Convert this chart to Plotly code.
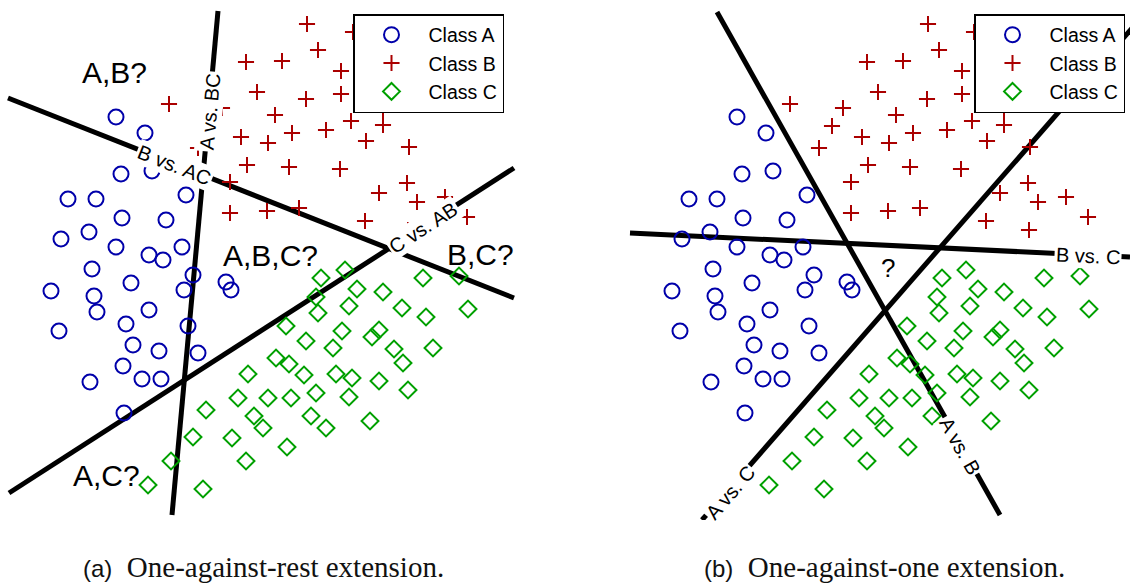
import plotly.graph_objects as go

# ---------------- data (panel coordinates, 1 unit = 1 px, y downward) -------------
class_a_x = [116, 145, 152, 121, 186, 68, 96, 122, 166, 61, 89, 116, 149, 163, 182,
             92, 131, 51, 94, 97, 149, 126, 59, 133, 159, 193, 184, 226, 231, 188,
             198, 123, 142, 161, 90, 124]
class_a_y = [117, 133, 171, 174, 195, 199, 199, 218, 220, 239, 232, 247, 255, 260, 247,
             269, 283, 291, 296, 312, 310, 324, 331, 345, 351, 275, 290, 282, 290, 326,
             353, 366, 379, 379, 382, 413]

class_b_x = [169, 222, 246, 257, 211, 241, 198, 247, 230, 230, 268, 267, 282, 307,
             318, 341, 306, 341, 275, 292, 326, 351, 383, 383, 366, 409, 289, 340,
             407, 379, 417, 445, 299, 365, 408, 467, 353]
class_b_y = [104, 108, 62, 92, 126, 137, 148, 165, 182, 213, 143, 211, 61, 24,
             50, 71, 99, 94, 115, 133, 130, 121, 110, 125, 141, 147, 167, 169,
             183, 193, 202, 197, 208, 221, 230, 217, 32]

class_c_x = [321, 345, 357, 383, 423, 459, 468, 316, 318, 349, 402, 426, 286, 342,
             379, 372, 306, 333, 394, 433, 276, 289, 248, 304, 336, 352, 403, 379,
             268, 291, 316, 349, 408, 238, 254, 263, 311, 326, 370, 287, 206, 193,
             232, 246, 171, 148, 203]
class_c_y = [278, 270, 289, 292, 278, 276, 309, 297, 313, 306, 308, 317, 326, 331,
             330, 337, 341, 348, 349, 348, 358, 364, 374, 375, 374, 378, 363, 381,
             398, 398, 393, 397, 390, 398, 416, 428, 416, 428, 421, 447, 410, 437,
             438, 461, 461, 485, 489]

class_names = ["Class A", "Class B", "Class C"]

# decision boundaries: endpoints (x0, x1), (y0, y1)
left_lines = {
    "B vs. AC": ([8, 514], [98, 298]),
    "A vs. BC": ([218, 172], [11, 515]),
    "C vs. AB": ([9, 514], [493, 168]),
}
right_lines = {
    "B vs. C": ([9, 509], [233, 257]),
    "A vs. B": ([96, 379], [12, 515]),
    "A vs. C": ([512, 81], [27, 520]),
}

# line labels: text, x, y, angle
left_line_labels = [("B vs. AC", 174, 165, 21.5), ("A vs. BC", 210, 112, -84.8),
                    ("C vs. AB", 423, 228, -32.8)]
right_line_labels = [("B vs. C", 467, 256, 2.7), ("A vs. B", 339, 446, 60.6),
                     ("A vs. C", 109, 493, -48.9)]

left_regions = [("A,B?", 114, 72), ("A,B,C?", 270, 255), ("B,C?", 480, 254),
                ("A,C?", 106, 475)]
right_regions = [("?", 267, 268)]

captions = ["One-against-rest extension.", "One-against-one extension."]
caption_tags = ["(a)", "(b)"]

# ---------------- figure --------------------------------------------------------------
W, H = 1130, 583
colors = ["#0000aa", "#aa0000", "#00a000"]
symbols = ["circle-open", "cross-thin-open", "diamond-open"]
sizes = [15, 11.5, 13]
SANS = "Liberation Sans, Arial, Helvetica, sans-serif"

fig = go.Figure()
data_sets = [(class_a_x, class_a_y), (class_b_x, class_b_y), (class_c_x, class_c_y)]

for panel, (xa, ya, leg, lines) in enumerate([("x", "y", "legend", left_lines),
                                                ("x2", "y2", "legend2", right_lines)]):
    for name, (xs, ys) in lines.items():
        fig.add_trace(go.Scatter(x=xs, y=ys, mode="lines", xaxis=xa, yaxis=ya,
                                 line=dict(color="black", width=5),
                                 showlegend=False, hoverinfo="skip"))
    for i, (xs, ys) in enumerate(data_sets):
        fig.add_trace(go.Scatter(
            x=xs, y=ys, mode="markers", name=class_names[i], xaxis=xa, yaxis=ya,
            legend=leg,
            marker=dict(symbol=symbols[i], size=sizes[i], color=colors[i],
                        line=dict(color=colors[i], width=2)),
        ))

annotations = []
for xref, yref, labels, regions in [("x", "y", left_line_labels, left_regions),
                                     ("x2", "y2", right_line_labels, right_regions)]:
    for text, x, y, ang in labels:
        annotations.append(dict(text=text, x=x, y=y, xref=xref, yref=yref,
                                showarrow=False, textangle=ang, bgcolor="white",
                                borderpad=1, font=dict(family=SANS, size=20, color="black")))
    for text, x, y in regions:
        annotations.append(dict(text=text, x=x, y=y, xref=xref, yref=yref,
                                showarrow=False,
                                font=dict(family=SANS, size=30 if len(text) > 1 else 26,
                                          color="black")))

cap_x = [263 / W, 884 / W]
for tag, cap, cx in zip(caption_tags, captions, cap_x):
    annotations.append(dict(
        text=f'<span style="font-family:{SANS};font-size:24px">{tag}</span>  {cap}',
        x=cx, y=1 - 567 / H, xref="paper", yref="paper", showarrow=False,
        xanchor="center", yanchor="middle",
        font=dict(family="Liberation Serif, Times New Roman, serif", size=29, color="#111")))

ydom = [63 / H, 1]
ax_common = dict(visible=False, showgrid=False, zeroline=False, fixedrange=True)
legend_common = dict(bgcolor="white", bordercolor="black", borderwidth=1.5,
                     font=dict(family=SANS, size=19.5, color="black"),
                     xanchor="left", yanchor="top", itemwidth=64,
                     tracegroupgap=0)

fig.update_layout(
    width=W, height=H, margin=dict(l=0, r=0, t=0, b=0),
    paper_bgcolor="white", plot_bgcolor="white",
    xaxis=dict(domain=[0, 560 / W], range=[0, 560], **ax_common),
    yaxis=dict(domain=ydom, range=[520, 0], **ax_common),
    xaxis2=dict(domain=[621 / W, 1], range=[0, 509], **ax_common),
    yaxis2=dict(domain=ydom, range=[520, 0], anchor="x2", **ax_common),
    legend=dict(x=353 / W, y=1 - 14 / H, **legend_common),
    legend2=dict(x=974 / W, y=1 - 14 / H, **legend_common),
    annotations=annotations,
    showlegend=True,
)

fig.write_html("out.html")
